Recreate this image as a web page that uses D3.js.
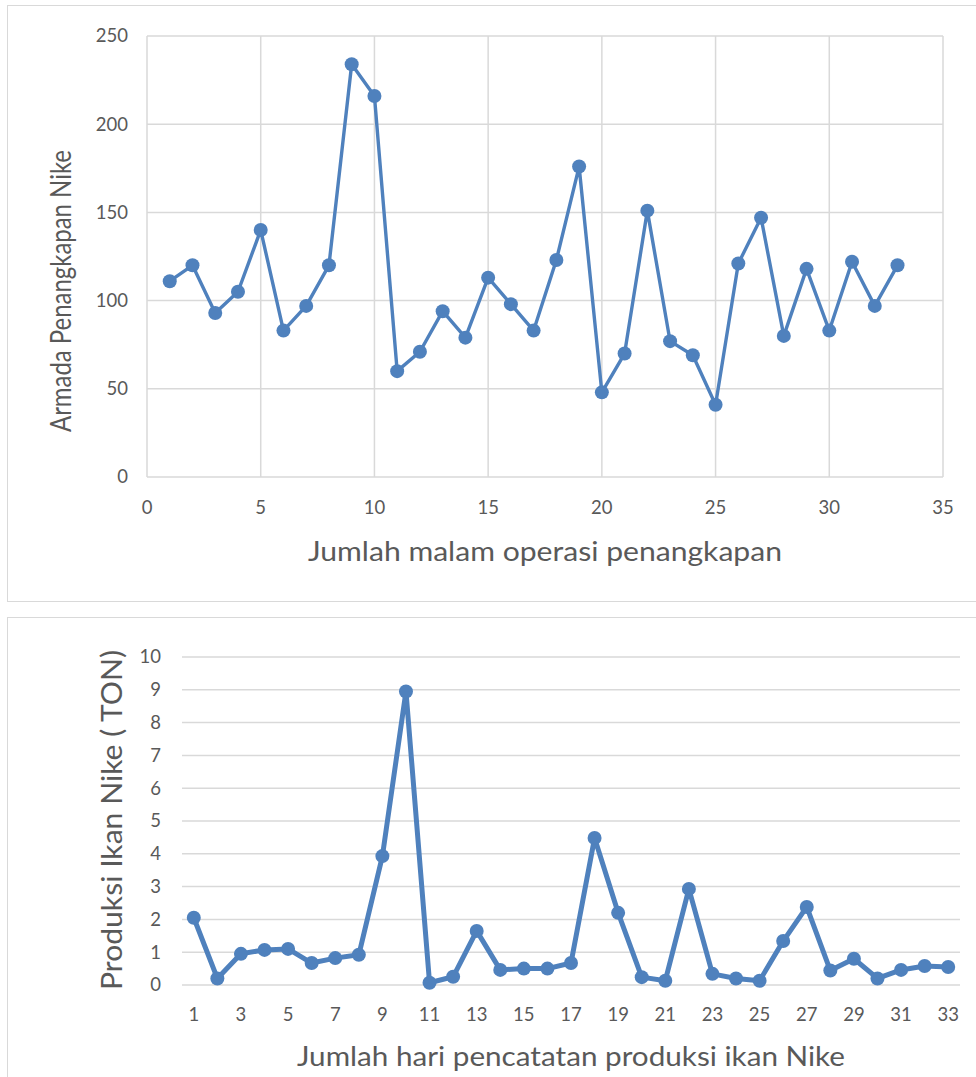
<!DOCTYPE html>
<html>
<head>
<meta charset="utf-8">
<script src="https://cdn.jsdelivr.net/npm/d3@7"></script>
<style>
  body { margin: 0; background: #fff; }
  text { fill: #595959; }
</style>
</head>
<body>
<svg id="chart" width="976" height="1077"></svg>
<script>
// top chart: armada per malam operasi
const malam = d3.range(1, 34);
const armada = [111, 120, 93, 105, 140, 83, 97, 120, 234, 216, 60, 71, 94, 79, 113, 98, 83,
                123, 176, 48, 70, 151, 77, 69, 41, 121, 147, 80, 118, 83, 122, 97, 120];
const armadaTicksX = [0, 5, 10, 15, 20, 25, 30, 35];
const armadaTicksY = [0, 50, 100, 150, 200, 250];

// bottom chart: produksi per hari (ton)
const hari = d3.range(1, 34);
const produksi = [2.05, 0.2, 0.95, 1.07, 1.1, 0.67, 0.82, 0.92, 3.93, 8.95, 0.07, 0.25, 1.65,
                  0.46, 0.5, 0.5, 0.67, 4.48, 2.2, 0.24, 0.13, 2.93, 0.34, 0.2, 0.13, 1.34,
                  2.38, 0.44, 0.8, 0.2, 0.46, 0.58, 0.55];
const produksiTicksY = d3.range(0, 11);
const hariLabels = hari.filter(d => d % 2 === 1);

const blue = '#4f81bd';
const grid = '#d9d9d9';
const tickFont = 'Lato, "Open Sans", sans-serif';

const svg = d3.select('#chart');

// chart frames
svg.append('rect').attr('x', 7.5).attr('y', 5.5).attr('width', 975).attr('height', 596)
   .attr('fill', 'none').attr('stroke', grid);
svg.append('rect').attr('x', 7.5).attr('y', 617.5).attr('width', 975).attr('height', 480)
   .attr('fill', 'none').attr('stroke', grid);

// ---------- top ----------
let x1 = d3.scaleLinear().domain([0, 35]).range([147, 943]);
let y1 = d3.scaleLinear().domain([0, 250]).range([477, 36]);

let g1 = svg.append('g');
g1.selectAll('line.gy').data(armadaTicksY).join('line')
  .attr('x1', x1(0)).attr('x2', x1(35))
  .attr('y1', d => y1(d)).attr('y2', d => y1(d))
  .attr('stroke', grid).attr('stroke-width', 1.5);
g1.selectAll('line.gx').data(armadaTicksX).join('line')
  .attr('class', 'gx')
  .attr('x1', d => x1(d)).attr('x2', d => x1(d))
  .attr('y1', y1(0)).attr('y2', y1(250))
  .attr('stroke', grid).attr('stroke-width', 1.5);

g1.selectAll('text.ty').data(armadaTicksY).join('text')
  .attr('class', 'ty')
  .attr('x', 128).attr('y', d => y1(d)).attr('dy', '0.35em')
  .attr('text-anchor', 'end').style('font', `18.5px ${tickFont}`)
  .text(d => d);
g1.selectAll('text.tx').data(armadaTicksX).join('text')
  .attr('class', 'tx')
  .attr('x', d => x1(d)).attr('y', 508).attr('dy', '0.35em')
  .attr('text-anchor', 'middle').style('font', `18.5px ${tickFont}`)
  .text(d => d);

let line1 = d3.line().x((d, i) => x1(malam[i])).y(d => y1(d));
g1.append('path').datum(armada).attr('d', line1)
  .attr('fill', 'none').attr('stroke', blue).attr('stroke-width', 3.4)
  .attr('stroke-linejoin', 'round');
g1.selectAll('circle').data(armada).join('circle')
  .attr('cx', (d, i) => x1(malam[i])).attr('cy', d => y1(d)).attr('r', 7)
  .attr('fill', blue);

g1.append('text')
  .attr('x', 545).attr('y', 552).attr('dy', '0.35em').attr('text-anchor', 'middle')
  .attr('textLength', 474).attr('lengthAdjust', 'spacingAndGlyphs')
  .style('font', `27px ${tickFont}`)
  .text('Jumlah malam operasi penangkapan');
g1.append('text')
  .attr('transform', 'translate(61,291) rotate(-90)').attr('dy', '0.35em')
  .attr('text-anchor', 'middle')
  .attr('textLength', 282).attr('lengthAdjust', 'spacingAndGlyphs')
  .style('font', `29px ${tickFont}`)
  .text('Armada Penangkapan Nike');

// ---------- bottom ----------
let x2 = d3.scaleBand().domain(hari).range([182, 960]);
let y2 = d3.scaleLinear().domain([0, 10]).range([985, 657]);
const cx2 = d => x2(d) + x2.bandwidth() / 2;

let g2 = svg.append('g');
g2.selectAll('line').data(produksiTicksY).join('line')
  .attr('x1', 182).attr('x2', 960)
  .attr('y1', d => y2(d)).attr('y2', d => y2(d))
  .attr('stroke', grid).attr('stroke-width', 1.5);

g2.selectAll('text.ty').data(produksiTicksY).join('text')
  .attr('class', 'ty')
  .attr('x', 161).attr('y', d => y2(d)).attr('dy', '0.35em')
  .attr('text-anchor', 'end').style('font', `18.5px ${tickFont}`)
  .text(d => d);
g2.selectAll('text.tx').data(hariLabels).join('text')
  .attr('class', 'tx')
  .attr('x', d => cx2(d)).attr('y', 1015).attr('dy', '0.35em')
  .attr('text-anchor', 'middle').style('font', `18.5px ${tickFont}`)
  .text(d => d);

let line2 = d3.line().x((d, i) => cx2(hari[i])).y(d => y2(d));
g2.append('path').datum(produksi).attr('d', line2)
  .attr('fill', 'none').attr('stroke', blue).attr('stroke-width', 5)
  .attr('stroke-linejoin', 'round');
g2.selectAll('circle').data(produksi).join('circle')
  .attr('cx', (d, i) => cx2(hari[i])).attr('cy', d => y2(d)).attr('r', 7)
  .attr('fill', blue);

g2.append('text')
  .attr('x', 571).attr('y', 1057).attr('dy', '0.35em').attr('text-anchor', 'middle')
  .attr('textLength', 548).attr('lengthAdjust', 'spacingAndGlyphs')
  .style('font', `27px ${tickFont}`)
  .text('Jumlah hari pencatatan produksi ikan Nike');
g2.append('text')
  .attr('transform', 'translate(112,820) rotate(-90)').attr('dy', '0.35em')
  .attr('text-anchor', 'middle')
  .attr('textLength', 340).attr('lengthAdjust', 'spacingAndGlyphs')
  .style('font', `28px ${tickFont}`)
  .text('Produksi Ikan Nike ( TON)');
</script>
</body>
</html>
